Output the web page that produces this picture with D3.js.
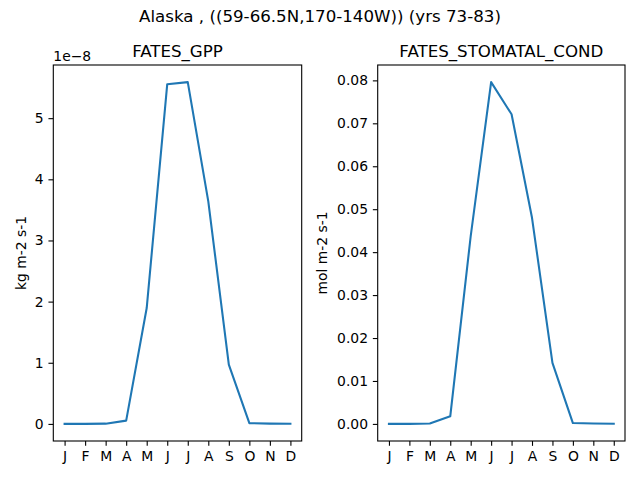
<!DOCTYPE html>
<html>
<head>
<meta charset="utf-8">
<script src="https://cdn.jsdelivr.net/npm/d3@7"></script>
<style>
  body { margin: 0; background: #fff; }
  svg { display: block; font-family: "DejaVu Sans", sans-serif; }
</style>
</head>
<body>
<svg id="chart" width="640" height="480"></svg>
<script>
const months = ["J","F","M","A","M","J","J","A","S","O","N","D"];
const gppValues = [0.0, 0.0, 0.004e-8, 0.054e-8, 1.895e-8, 5.556e-8, 5.59e-8, 3.64e-8, 0.969e-8, 0.012e-8, 0.004e-8, 0.002e-8];
const condValues = [0.0, 0.0, 0.0001, 0.00177, 0.0437, 0.0796, 0.0721, 0.048, 0.0142, 0.0002, 0.0001, 0.00005];
const gppTicks = [0, 1e-8, 2e-8, 3e-8, 4e-8, 5e-8];
const condTicks = [0, 0.01, 0.02, 0.03, 0.04, 0.05, 0.06, 0.07, 0.08];

const svg = d3.select("#chart");
const W = 640, H = 480;
const tickFont = 13.9, titleFont = 16.67;
const tickLen = 4.86, tickPad = 4.86;

svg.append("text")
  .attr("x", 320).attr("y", 22)
  .attr("text-anchor", "middle")
  .attr("font-size", titleFont)
  .text("Alaska , ((59-66.5N,170-140W)) (yrs 73-83)");

function panel(opts) {
  const { x0, x1, y0, y1, values, ticks, fmt, title, ylabel, ylabelX, offsetText } = opts;
  const x = d3.scaleLinear().domain([-0.55, 11.55]).range([x0, x1]);
  const vmax = d3.max(values), vmin = d3.min(values);
  const pad = (vmax - vmin) * 0.05;
  const y = d3.scaleLinear().domain([vmin - pad, vmax + pad]).range([y1, y0]);
  const g = svg.append("g");

  // line
  const line = d3.line().x((d, i) => x(i)).y(d => y(d));
  g.append("path").datum(values)
    .attr("fill", "none").attr("stroke", "#1f77b4")
    .attr("stroke-width", 2.08).attr("stroke-linejoin", "round").attr("stroke-linecap", "square")
    .attr("d", line);

  // x axis
  const xa = g.append("g").attr("transform", `translate(0,${y1})`)
    .call(d3.axisBottom(x).tickValues(d3.range(12)).tickFormat(i => months[i])
      .tickSizeInner(tickLen).tickSizeOuter(0).tickPadding(tickPad));
  xa.select(".domain").remove();
  xa.selectAll("line").attr("stroke", "#000").attr("stroke-width", 1.1);
  xa.selectAll("text").attr("font-size", tickFont).attr("fill", "#000")
    .attr("font-family", "DejaVu Sans");

  // y axis
  const ya = g.append("g").attr("transform", `translate(${x0},0)`)
    .call(d3.axisLeft(y).tickValues(ticks).tickFormat(fmt)
      .tickSizeInner(tickLen).tickSizeOuter(0).tickPadding(tickPad));
  ya.select(".domain").remove();
  ya.selectAll("line").attr("stroke", "#000").attr("stroke-width", 1.1);
  ya.selectAll("text").attr("font-size", tickFont).attr("fill", "#000")
    .attr("font-family", "DejaVu Sans");

  // frame
  g.append("rect").attr("x", x0).attr("y", y0)
    .attr("width", x1 - x0).attr("height", y1 - y0)
    .attr("fill", "none").attr("stroke", "#000").attr("stroke-width", 1.1);

  // title
  g.append("text").attr("x", (x0 + x1) / 2).attr("y", y0 - 8)
    .attr("text-anchor", "middle").attr("font-size", titleFont).text(title);

  // ylabel
  g.append("text")
    .attr("transform", `translate(${ylabelX},${(y0 + y1) / 2}) rotate(-90)`)
    .attr("text-anchor", "middle").attr("dominant-baseline", "central")
    .attr("font-size", tickFont).text(ylabel);

  if (offsetText) {
    g.append("text").attr("x", x0).attr("y", y0 - 4.5)
      .attr("font-size", tickFont).text(offsetText);
  }
}

panel({
  x0: 53.3, x1: 301.7, y0: 65, y1: 441,
  values: gppValues, ticks: gppTicks,
  fmt: d => d3.format("d")(Math.round(d / 1e-8)),
  title: "FATES_GPP", ylabel: "kg m-2 s-1", ylabelX: 21,
  offsetText: "1e\u22128"
});

panel({
  x0: 377.7, x1: 625, y0: 65, y1: 441,
  values: condValues, ticks: condTicks,
  fmt: d3.format(".2f"),
  title: "FATES_STOMATAL_COND", ylabel: "mol m-2 s-1", ylabelX: 322
});
</script>
</body>
</html>
